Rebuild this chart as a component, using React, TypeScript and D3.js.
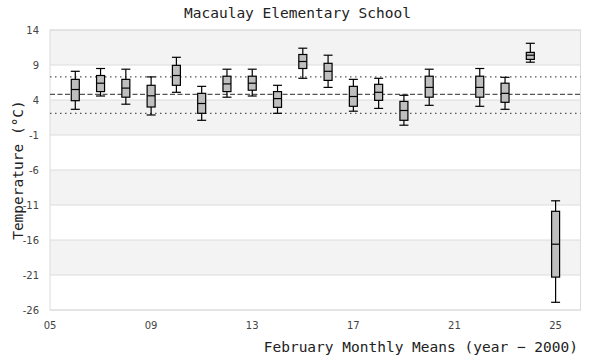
import React from "react";
import * as d3 from "d3";

const years = [6, 7, 8, 9, 10, 11, 12, 13, 14, 15, 16, 17, 18, 19, 20, 22, 23, 24, 25];
const whiskerLow = [2.67, 4.57, 3.4, 1.86, 5.1, 1.1, 4.4, 4.57, 2.1, 7.1, 5.8, 2.4, 2.8, 0.4, 3.24, 3.1, 2.67, 9.4, -24.9];
const q1 = [3.9, 5.2, 4.4, 3.0, 6.1, 2.1, 5.2, 5.4, 2.95, 8.5, 6.8, 3.1, 3.95, 1.1, 4.4, 4.4, 3.67, 9.8, -21.3];
const medians = [5.5, 6.4, 5.7, 4.6, 7.5, 3.5, 6.3, 6.4, 4.2, 9.5, 8.1, 4.5, 5.1, 2.5, 5.8, 5.8, 4.95, 10.4, -16.6];
const q3 = [6.95, 7.5, 6.95, 6.1, 8.95, 4.95, 7.4, 7.4, 5.2, 10.5, 9.24, 5.95, 6.24, 3.8, 7.4, 7.4, 6.4, 10.8, -11.9];
const whiskerHigh = [8.1, 8.5, 8.4, 7.3, 10.1, 5.95, 8.4, 8.4, 6.1, 11.4, 10.4, 6.95, 7.1, 4.67, 8.4, 8.5, 7.24, 12.1, -10.4];

const yTicks = [14, 9, 4, -1, -6, -11, -16, -21, -26];
const xTicks = [5, 9, 13, 17, 21, 25];
const meanLine = 4.8;
const upperLine = 7.3;
const lowerLine = 2.1;

const title = "Macaulay Elementary School";
const yTitle = "Temperature (°C)";
const xTitle = "February Monthly Means (year − 2000)";

export default function App() {
  const W = 600, H = 360;
  const left = 50, right = 580.5, top = 30, bottom = 310;
  const x = d3.scaleLinear().domain([5, 26]).range([left, left + 21 * 25.28]);
  const y = d3.scaleLinear().domain([-26, 14]).range([bottom, top]);
  const fmt = d3.format("02d");
  const mono = "'DejaVu Sans Mono', monospace";
  const sans = "'DejaVu Sans', sans-serif";
  const bw = 8;
  const cw = 9;

  const bands = [];
  for (let i = 0; i < yTicks.length - 1; i++) {
    if (i % 2 === 0) {
      bands.push([yTicks[i], yTicks[i + 1]]);
    }
  }

  return (
    <svg width={W} height={H} style={{ position: "fixed", left: 0, top: 0, background: "#fff" }}>
      <rect x={0} y={0} width={W} height={H} fill="#fff" />
      {bands.map((b, i) => (
        <rect key={i} x={left} y={y(b[0])} width={right - left} height={y(b[1]) - y(b[0])} fill="#f3f3f3" />
      ))}
      {yTicks.map((t) => (
        <line key={t} x1={left} x2={right} y1={y(t)} y2={y(t)} stroke="#dcdcdc" strokeWidth={1} />
      ))}
      <rect x={left} y={top} width={right - left} height={bottom - top} fill="none" stroke="#dcdcdc" strokeWidth={1} />
      <line x1={left} x2={right} y1={y(upperLine)} y2={y(upperLine)} stroke="#555" strokeWidth={1.3} strokeDasharray="1.5,3.5" />
      <line x1={left} x2={right} y1={y(lowerLine)} y2={y(lowerLine)} stroke="#555" strokeWidth={1.3} strokeDasharray="1.5,3.5" />
      <line x1={left} x2={right} y1={y(meanLine)} y2={y(meanLine)} stroke="#555" strokeWidth={1.3} strokeDasharray="5,2.5" />
      {years.map((yr, i) => {
        const cx = x(yr);
        return (
          <g key={yr} stroke="#000" strokeWidth={1.2}>
            <line x1={cx} x2={cx} y1={y(whiskerHigh[i])} y2={y(whiskerLow[i])} />
            <line x1={cx - cw / 2} x2={cx + cw / 2} y1={y(whiskerHigh[i])} y2={y(whiskerHigh[i])} />
            <line x1={cx - cw / 2} x2={cx + cw / 2} y1={y(whiskerLow[i])} y2={y(whiskerLow[i])} />
            <rect x={cx - bw / 2} y={y(q3[i])} width={bw} height={y(q1[i]) - y(q3[i])} fill="#bfbfbf" />
            <line x1={cx - bw / 2} x2={cx + bw / 2} y1={y(medians[i])} y2={y(medians[i])} />
          </g>
        );
      })}
      {yTicks.map((t) => (
        <text key={t} x={39} y={y(t) + 4} textAnchor="end" fontFamily={sans} fontSize={10} fill="#444">
          {t}
        </text>
      ))}
      {xTicks.map((t) => (
        <text key={t} x={x(t)} y={329} textAnchor="middle" fontFamily={sans} fontSize={10} fill="#444">
          {fmt(t)}
        </text>
      ))}
      <text x={297.5} y={18} textAnchor="middle" fontFamily={mono} fontSize={14.5} fill="#222">
        {title}
      </text>
      <text transform={`translate(23,${(top + bottom) / 2}) rotate(-90)`} textAnchor="middle" fontFamily={mono} fontSize={14.5} fill="#222">
        {yTitle}
      </text>
      <text x={578} y={352} textAnchor="end" fontFamily={mono} fontSize={14.5} fill="#222">
        {xTitle}
      </text>
    </svg>
  );
}
